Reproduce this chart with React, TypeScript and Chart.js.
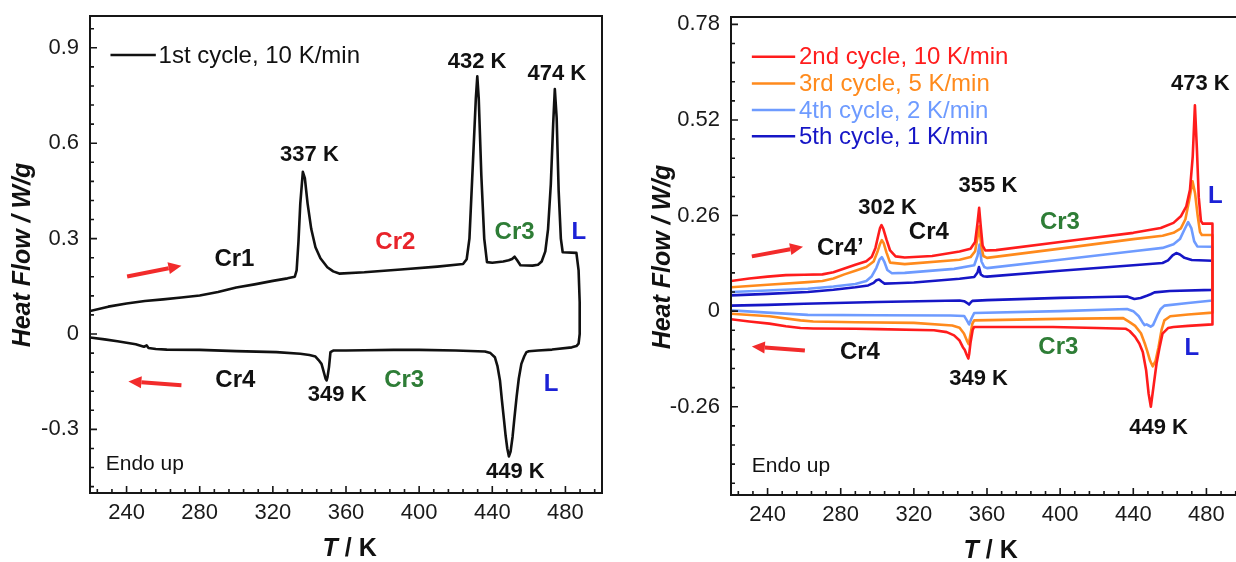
import React, { useEffect, useRef } from 'react';
import { Chart, registerables } from 'chart.js';

Chart.register(...registerables);

// ---------------- DATA ----------------
const xTickValues = [240, 280, 320, 360, 400, 440, 480];
const xTickLabels = ['240', '280', '320', '360', '400', '440', '480'];
const leftYTickValues = [-0.3, 0, 0.3, 0.6, 0.9];
const leftYTickLabels = ['-0.3', '0', '0.3', '0.6', '0.9'];
const rightYTickValues = [-0.26, 0, 0.26, 0.52, 0.78];
const rightYTickLabels = ['-0.26', '0', '0.26', '0.52', '0.78'];

const seriesLabels = [
  '1st cycle, 10 K/min',
  '2nd cycle, 10 K/min',
  '3rd cycle, 5 K/min',
  '4th cycle, 2 K/min',
  '5th cycle, 1 K/min',
];

// 1st cycle (left panel): heating then cooling
const cycle1HeatT = [220, 230, 240, 250, 260, 270, 280, 290, 300, 310, 320, 328, 332, 333, 334, 335, 336.4, 337.5, 339, 341, 343.3, 346, 349.8, 353, 356.3, 370, 390, 410, 424, 426, 427.5, 429.5, 431, 431.8, 432.6, 434, 435.6, 437.1, 440, 446, 449, 450.8, 452.2, 453.6, 455.4, 462, 465, 467, 469, 470.5, 472, 473.3, 474.2, 475.2, 476.3, 477.5, 478.5, 486, 487.2, 487.8, 487.8, 487.2];
const cycle1HeatHF = [0.072, 0.086, 0.096, 0.104, 0.109, 0.115, 0.121, 0.132, 0.146, 0.156, 0.167, 0.175, 0.18, 0.2, 0.29, 0.41, 0.51, 0.49, 0.41, 0.33, 0.273, 0.238, 0.21, 0.197, 0.19, 0.194, 0.203, 0.212, 0.22, 0.235, 0.3, 0.55, 0.74, 0.81, 0.74, 0.5, 0.3, 0.226, 0.224, 0.228, 0.232, 0.236, 0.243, 0.232, 0.216, 0.215, 0.218, 0.228, 0.26, 0.33, 0.47, 0.66, 0.77, 0.68, 0.45, 0.3, 0.257, 0.255, 0.2, 0.1, 0.0, -0.03];
const cycle1CoolT = [486, 483.5, 472.7, 465, 460, 458.7, 457.5, 455.9, 454.5, 453.3, 452, 451.1, 450, 449.1, 448.2, 447.3, 446.4, 445.3, 444.2, 442.8, 441.4, 439, 436, 420, 400, 386, 370, 360, 353, 351.5, 350.7, 349.9, 349.4, 348.8, 348.1, 347.3, 346.6, 345, 343.3, 340, 335, 322, 300, 280, 262, 256, 252, 251, 249.5, 245, 235, 228, 220];
const cycle1CoolHF = [-0.038, -0.042, -0.049, -0.052, -0.054, -0.057, -0.07, -0.094, -0.14, -0.198, -0.27, -0.323, -0.37, -0.385, -0.36, -0.32, -0.27, -0.21, -0.146, -0.1, -0.073, -0.06, -0.055, -0.052, -0.05, -0.05, -0.051, -0.052, -0.052, -0.057, -0.104, -0.135, -0.146, -0.14, -0.125, -0.108, -0.094, -0.082, -0.071, -0.066, -0.062, -0.057, -0.054, -0.05, -0.049, -0.047, -0.044, -0.036, -0.04, -0.032, -0.023, -0.017, -0.011];

// 2nd cycle
const cycle2HeatT = [220, 230, 240, 250, 260, 270, 276, 282, 288, 294, 297, 299, 300.5, 301.5, 302.3, 303.3, 305, 307, 310, 315, 330, 345, 351, 353.5, 354.7, 355.7, 356.6, 357.6, 359, 365, 400, 440, 455, 462, 466, 469, 471, 472.5, 473.7, 474.8, 475.8, 477, 478, 483.3];
const cycle2HeatHF = [0.082, 0.089, 0.094, 0.098, 0.099, 0.1, 0.106, 0.116, 0.126, 0.136, 0.148, 0.172, 0.205, 0.226, 0.234, 0.224, 0.195, 0.165, 0.149, 0.146, 0.15, 0.162, 0.17, 0.188, 0.235, 0.281, 0.23, 0.178, 0.165, 0.166, 0.188, 0.213, 0.226, 0.24, 0.258, 0.285, 0.33, 0.42, 0.56, 0.44, 0.31, 0.245, 0.238, 0.238];
const cycle2CoolT = [483.3, 470, 462, 459, 456, 454.3, 452.7, 451.2, 449.6, 448.4, 447, 445.2, 443.3, 441, 438, 436, 420, 396, 353, 352.2, 351, 350.3, 349.8, 349, 347.8, 346.8, 345, 342, 338, 331, 300, 288, 265, 258, 250, 241, 230, 220];
const cycle2CoolHF = [-0.036, -0.04, -0.043, -0.046, -0.061, -0.1, -0.143, -0.2, -0.26, -0.225, -0.16, -0.111, -0.088, -0.07, -0.054, -0.048, -0.046, -0.043, -0.043, -0.05, -0.085, -0.115, -0.129, -0.12, -0.105, -0.098, -0.08, -0.066, -0.057, -0.052, -0.049, -0.048, -0.047, -0.046, -0.041, -0.034, -0.028, -0.022];

// 3rd cycle
const cycle3HeatT = [220, 240, 262, 270, 276, 282, 288, 294, 298, 300, 301.5, 302.5, 303.5, 305, 307, 315, 345, 351, 353.5, 354.8, 355.8, 356.8, 358, 360, 400, 440, 456, 462, 466, 468.5, 470.5, 472.4, 473.8, 475.2, 476.5, 477.5, 483.3];
const cycle3HeatHF = [0.065, 0.072, 0.079, 0.082, 0.089, 0.1, 0.11, 0.12, 0.135, 0.16, 0.183, 0.193, 0.185, 0.16, 0.132, 0.128, 0.14, 0.147, 0.163, 0.2, 0.231, 0.18, 0.15, 0.145, 0.17, 0.196, 0.205, 0.213, 0.225, 0.25, 0.3, 0.353, 0.32, 0.26, 0.215, 0.207, 0.207];
const cycle3CoolT = [483.3, 470, 460.2, 457, 455.5, 453.8, 452.2, 450.6, 449.2, 447.6, 446.3, 444.2, 441, 438, 434.5, 400, 353, 352, 351, 350, 349, 347.4, 345, 341, 320, 288, 265, 258, 241, 220];
const cycle3CoolHF = [-0.004, -0.009, -0.014, -0.025, -0.05, -0.098, -0.135, -0.15, -0.135, -0.108, -0.088, -0.06, -0.04, -0.03, -0.019, -0.021, -0.025, -0.034, -0.062, -0.09, -0.08, -0.061, -0.045, -0.039, -0.032, -0.03, -0.028, -0.025, -0.014, -0.007];

// 4th cycle
const cycle4HeatT = [220, 240, 262, 276, 288, 294, 297, 299.5, 301.2, 302.5, 303.8, 305.5, 308, 315, 342, 353, 354.8, 355.9, 357, 358.5, 360, 400, 440, 456, 462, 465.5, 468, 470, 471.8, 473.3, 475, 483.3];
const cycle4HeatHF = [0.052, 0.056, 0.061, 0.067, 0.074, 0.082, 0.095, 0.118, 0.14, 0.147, 0.135, 0.112, 0.103, 0.104, 0.115, 0.125, 0.15, 0.181, 0.135, 0.12, 0.117, 0.14, 0.163, 0.172, 0.182, 0.196, 0.222, 0.242, 0.225, 0.19, 0.176, 0.175];
const cycle4CoolT = [483.3, 470, 457, 455, 453.5, 452, 450.8, 449.5, 448.4, 447.3, 446.2, 445, 443, 440, 436.6, 400, 353, 351.5, 350.2, 349, 347.5, 340, 300, 262, 240, 220];
const cycle4CoolHF = [0.029, 0.022, 0.015, 0.006, -0.008, -0.025, -0.038, -0.042, -0.039, -0.036, -0.038, -0.03, -0.014, 0.0, 0.006, 0.0, -0.005, -0.02, -0.036, -0.025, -0.013, -0.012, -0.011, -0.01, -0.004, 0.002];

// 5th cycle
const cycle5HeatT = [220, 240, 262, 276, 288, 295, 298, 299.5, 301, 302.5, 304, 310, 320, 345, 353, 354.8, 355.6, 356.6, 358, 360, 400, 440, 456, 459, 461.5, 463.5, 465.5, 468, 472, 483.3];
const cycle5HeatHF = [0.043, 0.047, 0.052, 0.058, 0.065, 0.07, 0.077, 0.084, 0.086, 0.08, 0.075, 0.076, 0.078, 0.088, 0.093, 0.105, 0.12, 0.1, 0.095, 0.094, 0.11, 0.125, 0.131, 0.138, 0.152, 0.158, 0.154, 0.145, 0.139, 0.137];
const cycle5CoolT = [483.3, 460, 451.6, 449.5, 447.4, 444, 440.6, 436.6, 417.3, 400, 360, 352, 351, 350.2, 349.2, 347.5, 345, 300, 260, 240, 220];
const cycle5CoolHF = [0.058, 0.055, 0.051, 0.046, 0.042, 0.036, 0.033, 0.04, 0.038, 0.036, 0.03, 0.028, 0.023, 0.018, 0.022, 0.027, 0.029, 0.025, 0.02, 0.017, 0.015];

// ---------------- STYLE / LAYOUT ----------------
const FONT = '"Liberation Sans", Arial, Helvetica, sans-serif';
const RED_TXT = '#e8232a';
const GREEN_TXT = '#2e7d36';
const BLUE_TXT = '#1c22d6';
const ARROW_RED = '#f22b2b';
const seriesColors = ['#111111', '#ff1c1c', '#ff8a1c', '#6e9bff', '#1616c6'];

type Pt = { x: number; y: number };
const toPts = (t: number[], h: number[]): Pt[] => t.map((v, i) => ({ x: v, y: h[i] }));
const loop = (ht: number[], hh: number[], ct: number[], ch: number[]) => [...toPts(ht, hh), ...toPts(ct, ch)];

type Ann = { text: string; x: number; y: number; color?: string; font?: string; align?: CanvasTextAlign };
type Arrow = { x1: number; y1: number; x2: number; y2: number };

interface PanelCfg {
  canvasW: number;
  canvasH: number;
  area: { left: number; top: number; right: number; bottom: number };
  yMin: number;
  yMax: number;
  yTickValues: number[];
  yTickLabels: string[];
  yMinorStep: number;
  datasets: { label: string; data: Pt[]; color: string }[];
  legendColoredText: boolean;
  legendX1: number;
  legendX2: number;
  legendXText: number;
  legendYs: number[];
  anns: Ann[];
  arrows: Arrow[];
  yTitleCx: number;
  yTitleCy: number;
  xTitleT: number;
  xTitleCy: number;
}

const BOLD_PEAK = `bold 22px ${FONT}`;
const BOLD_PHASE = `bold 24px ${FONT}`;
const REG = `21px ${FONT}`;

const leftPanel: PanelCfg = {
  canvasW: 620,
  canvasH: 562,
  area: { left: 90, top: 16, right: 602, bottom: 493 },
  yMin: -0.5,
  yMax: 1.0,
  yTickValues: leftYTickValues,
  yTickLabels: leftYTickLabels,
  yMinorStep: 0.06,
  datasets: [{ label: seriesLabels[0], data: loop(cycle1HeatT, cycle1HeatHF, cycle1CoolT, cycle1CoolHF), color: seriesColors[0] }],
  legendColoredText: false,
  legendX1: 231.2,
  legendX2: 256,
  legendXText: 257.5,
  legendYs: [0.877],
  anns: [
    { text: '337 K', x: 340, y: 0.562, font: BOLD_PEAK },
    { text: '432 K', x: 431.7, y: 0.856, font: BOLD_PEAK },
    { text: '474 K', x: 475.3, y: 0.817, font: BOLD_PEAK },
    { text: 'Cr1', x: 299, y: 0.236, font: BOLD_PHASE },
    { text: 'Cr2', x: 387, y: 0.288, font: BOLD_PHASE, color: RED_TXT },
    { text: 'Cr3', x: 452.2, y: 0.32, font: BOLD_PHASE, color: GREEN_TXT },
    { text: 'L', x: 487.3, y: 0.32, font: BOLD_PHASE, color: BLUE_TXT },
    { text: 'Cr4', x: 299.5, y: -0.146, font: BOLD_PHASE },
    { text: '349 K', x: 355.2, y: -0.193, font: BOLD_PEAK },
    { text: 'Cr3', x: 391.8, y: -0.146, font: BOLD_PHASE, color: GREEN_TXT },
    { text: 'L', x: 472.2, y: -0.158, font: BOLD_PHASE, color: BLUE_TXT },
    { text: '449 K', x: 452.6, y: -0.435, font: BOLD_PEAK },
    { text: 'Endo up', x: 228.6, y: -0.408, font: REG, align: 'left' },
  ],
  arrows: [
    { x1: 240.3, y1: 0.181, x2: 270, y2: 0.215 },
    { x1: 270, y1: -0.161, x2: 241, y2: -0.149 },
  ],
  yTitleCx: 23,
  yTitleCy: 255,
  xTitleT: 362,
  xTitleCy: 549,
};

const rightPanel: PanelCfg = {
  canvasW: 640,
  canvasH: 562,
  area: { left: 111, top: 17, right: 623, bottom: 495 },
  yMin: -0.5,
  yMax: 0.8,
  yTickValues: rightYTickValues,
  yTickLabels: rightYTickLabels,
  yMinorStep: 0.052,
  datasets: [
    { label: seriesLabels[1], data: loop(cycle2HeatT, cycle2HeatHF, cycle2CoolT, cycle2CoolHF), color: seriesColors[1] },
    { label: seriesLabels[2], data: loop(cycle3HeatT, cycle3HeatHF, cycle3CoolT, cycle3CoolHF), color: seriesColors[2] },
    { label: seriesLabels[3], data: loop(cycle4HeatT, cycle4HeatHF, cycle4CoolT, cycle4CoolHF), color: seriesColors[3] },
    { label: seriesLabels[4], data: loop(cycle5HeatT, cycle5HeatHF, cycle5CoolT, cycle5CoolHF), color: seriesColors[4] },
  ],
  legendColoredText: true,
  legendX1: 231.4,
  legendX2: 255.1,
  legendXText: 257.2,
  legendYs: [0.692, 0.619, 0.547, 0.476],
  anns: [
    { text: '473 K', x: 476.7, y: 0.617, font: BOLD_PEAK },
    { text: 'L', x: 484.8, y: 0.313, font: BOLD_PHASE, color: BLUE_TXT },
    { text: '355 K', x: 360.5, y: 0.34, font: BOLD_PEAK },
    { text: '302 K', x: 305.6, y: 0.281, font: BOLD_PEAK },
    { text: 'Cr4', x: 328.2, y: 0.213, font: BOLD_PHASE },
    { text: 'Cr3', x: 399.9, y: 0.242, font: BOLD_PHASE, color: GREEN_TXT },
    { text: 'Cr4\u2019', x: 279.8, y: 0.172, font: BOLD_PHASE },
    { text: 'Cr4', x: 290.5, y: -0.111, font: BOLD_PHASE },
    { text: '349 K', x: 355.4, y: -0.183, font: BOLD_PEAK },
    { text: 'Cr3', x: 399, y: -0.0975, font: BOLD_PHASE, color: GREEN_TXT },
    { text: 'L', x: 472, y: -0.102, font: BOLD_PHASE, color: BLUE_TXT },
    { text: '449 K', x: 453.8, y: -0.317, font: BOLD_PEAK },
    { text: 'Endo up', x: 231.4, y: -0.423, font: REG, align: 'left' },
  ],
  arrows: [
    { x1: 231.4, y1: 0.149, x2: 259.4, y2: 0.175 },
    { x1: 260.4, y1: -0.107, x2: 231.4, y2: -0.096 },
  ],
  yTitleCx: 43,
  yTitleCy: 257,
  xTitleT: 362,
  xTitleCy: 551,
};

function decorPlugin(p: PanelCfg) {
  return {
    id: 'decor',
    afterDatasetsDraw(chart: any) {
      const { ctx, chartArea: a } = chart;
      const xs = chart.scales.x;
      const ys = chart.scales.y;
      const X = (v: number) => xs.getPixelForValue(v);
      const Y = (v: number) => ys.getPixelForValue(v);
      ctx.save();

      // frame
      ctx.strokeStyle = '#161616';
      ctx.lineWidth = 2;
      ctx.strokeRect(a.left, a.top, a.right - a.left, a.bottom - a.top);

      // ticks (inward)
      ctx.lineWidth = 1.6;
      ctx.beginPath();
      for (let i = -20; i <= 60; i++) {
        const v = 240 + i * 8;
        if (v <= 220 || v >= 500) continue;
        const major = i % 5 === 0;
        const px = X(v);
        ctx.moveTo(px, a.bottom);
        ctx.lineTo(px, a.bottom - (major ? 7 : 4));
      }
      for (let i = -60; i <= 60; i++) {
        const v = i * p.yMinorStep;
        if (v <= p.yMin + 1e-6 || v >= p.yMax - 1e-6) continue;
        const major = i % 5 === 0;
        const py = Y(v);
        ctx.moveTo(a.left, py);
        ctx.lineTo(a.left + (major ? 7 : 4), py);
      }
      ctx.stroke();

      // legend
      p.datasets.forEach((d, i) => {
        const yy = Y(p.legendYs[i]);
        ctx.strokeStyle = d.color;
        ctx.lineWidth = 2.5;
        ctx.beginPath();
        ctx.moveTo(X(p.legendX1), yy);
        ctx.lineTo(X(p.legendX2), yy);
        ctx.stroke();
        ctx.fillStyle = p.legendColoredText ? d.color : '#111';
        ctx.font = `24px ${FONT}`;
        ctx.textAlign = 'left';
        ctx.textBaseline = 'middle';
        ctx.fillText(d.label, X(p.legendXText), yy + 1);
      });

      // annotations
      for (const an of p.anns) {
        ctx.fillStyle = an.color || '#111';
        ctx.font = an.font || BOLD_PHASE;
        ctx.textAlign = an.align || 'center';
        ctx.textBaseline = 'middle';
        ctx.fillText(an.text, X(an.x), Y(an.y));
      }

      // arrows
      for (const ar of p.arrows) {
        const x1 = X(ar.x1), y1 = Y(ar.y1), x2 = X(ar.x2), y2 = Y(ar.y2);
        const ang = Math.atan2(y2 - y1, x2 - x1);
        const hl = 13, hw = 6;
        const bx = x2 - hl * Math.cos(ang), by = y2 - hl * Math.sin(ang);
        ctx.strokeStyle = ARROW_RED;
        ctx.fillStyle = ARROW_RED;
        ctx.lineWidth = 4;
        ctx.lineCap = 'butt';
        ctx.beginPath();
        ctx.moveTo(x1, y1);
        ctx.lineTo(bx, by);
        ctx.stroke();
        ctx.beginPath();
        ctx.moveTo(x2, y2);
        ctx.lineTo(bx - hw * Math.sin(ang), by + hw * Math.cos(ang));
        ctx.lineTo(bx + hw * Math.sin(ang), by - hw * Math.cos(ang));
        ctx.closePath();
        ctx.fill();
      }

      // axis titles
      ctx.fillStyle = '#111';
      ctx.save();
      ctx.translate(p.yTitleCx, p.yTitleCy);
      ctx.rotate(-Math.PI / 2);
      ctx.font = `italic bold 25px ${FONT}`;
      ctx.textAlign = 'center';
      ctx.textBaseline = 'middle';
      ctx.fillText('Heat Flow / W/g', 0, 0);
      ctx.restore();

      const fT = `italic bold 25px ${FONT}`;
      const fR = `bold 25px ${FONT}`;
      ctx.font = fT;
      const wT = ctx.measureText('T').width;
      ctx.font = fR;
      const wR = ctx.measureText(' / K').width;
      const cx = X(p.xTitleT);
      const sx = cx - (wT + wR) / 2;
      ctx.textAlign = 'left';
      ctx.textBaseline = 'middle';
      ctx.font = fT;
      ctx.fillText('T', sx, p.xTitleCy);
      ctx.font = fR;
      ctx.fillText(' / K', sx + wT, p.xTitleCy);

      ctx.restore();
    },
  };
}

function buildConfig(p: PanelCfg): any {
  const tickFont = { family: FONT, size: 22 };
  return {
    type: 'line',
    data: {
      datasets: p.datasets.map((d) => ({
        label: d.label,
        data: d.data,
        borderColor: d.color,
        backgroundColor: d.color,
        borderWidth: 2.6,
        pointRadius: 0,
        fill: false,
        tension: 0,
        borderJoinStyle: 'round',
      })),
    },
    options: {
      responsive: false,
      animation: false,
      devicePixelRatio: 1,
      events: [],
      layout: {
        padding: {
          left: 0,
          top: p.area.top,
          right: p.canvasW - p.area.right,
          bottom: 0,
        },
      },
      plugins: { legend: { display: false }, tooltip: { enabled: false }, title: { display: false } },
      scales: {
        x: {
          type: 'linear',
          min: 220,
          max: 500,
          grid: { display: false, drawTicks: false },
          border: { display: false },
          ticks: {
            autoSkip: false,
            maxRotation: 0,
            padding: 7,
            color: '#1a1a1a',
            font: tickFont,
            callback: (_v: any, i: number) => xTickLabels[i],
          },
          afterBuildTicks: (s: any) => {
            s.ticks = xTickValues.map((v) => ({ value: v }));
          },
          afterFit: (s: any) => {
            s.height = p.canvasH - p.area.bottom;
            s.paddingLeft = 0;
            s.paddingRight = 0;
          },
        },
        y: {
          type: 'linear',
          min: p.yMin,
          max: p.yMax,
          grid: { display: false, drawTicks: false },
          border: { display: false },
          ticks: {
            autoSkip: false,
            padding: 11,
            color: '#1a1a1a',
            font: tickFont,
            callback: (_v: any, i: number) => p.yTickLabels[i],
          },
          afterBuildTicks: (s: any) => {
            s.ticks = p.yTickValues.map((v) => ({ value: v }));
          },
          afterFit: (s: any) => {
            s.width = p.area.left;
            s.paddingTop = 0;
            s.paddingBottom = 0;
          },
        },
      },
    },
    plugins: [decorPlugin(p)],
  };
}

export default function App() {
  const leftRef = useRef<HTMLCanvasElement>(null);
  const rightRef = useRef<HTMLCanvasElement>(null);

  useEffect(() => {
    const c1 = new Chart(leftRef.current as HTMLCanvasElement, buildConfig(leftPanel));
    const c2 = new Chart(rightRef.current as HTMLCanvasElement, buildConfig(rightPanel));
    return () => {
      c1.destroy();
      c2.destroy();
    };
  }, []);

  return (
    <div
      style={{
        position: 'fixed',
        left: 0,
        top: 0,
        width: 1236,
        height: 562,
        overflow: 'hidden',
        background: '#ffffff',
      }}
    >
      <canvas
        ref={leftRef}
        width={leftPanel.canvasW}
        height={leftPanel.canvasH}
        style={{ position: 'absolute', left: 0, top: 0, width: leftPanel.canvasW, height: leftPanel.canvasH }}
      />
      <canvas
        ref={rightRef}
        width={rightPanel.canvasW}
        height={rightPanel.canvasH}
        style={{ position: 'absolute', left: 620, top: 0, width: rightPanel.canvasW, height: rightPanel.canvasH }}
      />
    </div>
  );
}
